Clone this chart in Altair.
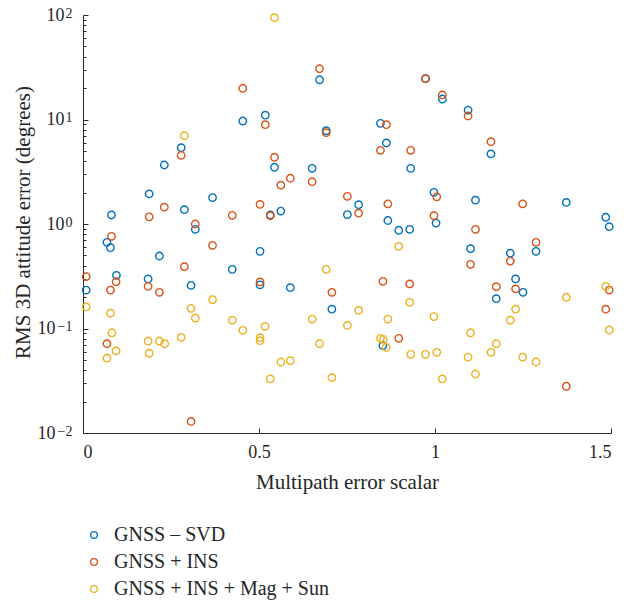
import altair as alt
import pandas as pd

# ---------------- data ----------------
series_names = ["GNSS – SVD", "GNSS + INS", "GNSS + INS + Mag + Sun"]
series_colors = ["#0072BD", "#D95319", "#EDB120"]

svd_x = [0.454, 0.279, 0.231, 0.188, 0.288, 0.368, 0.081, 0.319, 0.068, 0.078,
         0.503, 0.217, 0.424, 0.095, 0.185, 0.009, 0.307, 0.503, 0.672, 0.973,
         1.021, 0.518, 0.691, 0.845, 0.862, 0.931, 0.544, 0.651, 0.783, 0.997,
         0.532, 0.562, 0.751, 0.866, 0.897, 0.928, 1.003, 0.589, 0.707, 0.852,
         1.094, 1.159, 1.115, 1.373, 1.485, 1.495, 1.101, 1.214, 1.287, 1.229,
         1.250, 1.174]
svd_y = [9.67, 5.37, 3.67, 1.94, 1.37, 1.79, 1.22, 0.89, 0.668, 0.593,
         0.548, 0.494, 0.368, 0.323, 0.298, 0.233, 0.259, 0.262, 24.0, 24.6,
         15.7, 11.0, 7.81, 9.2, 5.96, 3.41, 3.49, 3.41, 1.53, 2.01,
         1.22, 1.33, 1.23, 1.08, 0.871, 0.889, 1.02, 0.246, 0.153, 0.0685,
         12.3, 4.68, 1.69, 1.61, 1.16, 0.942, 0.58, 0.525, 0.548, 0.298,
         0.222, 0.193]

ins_x = [0.454, 0.279, 0.231, 0.188, 0.424, 0.503, 0.319, 0.081, 0.368, 0.288,
         0.009, 0.094, 0.185, 0.078, 0.217, 0.503, 0.068, 0.307, 0.672, 0.973,
         1.021, 0.518, 0.691, 0.862, 0.845, 0.931, 0.544, 0.589, 0.562, 0.651,
         0.751, 0.866, 1.005, 0.532, 0.783, 0.997, 0.707, 0.852, 0.928, 0.897,
         1.094, 1.159, 1.249, 1.115, 1.101, 1.214, 1.287, 1.174, 1.229, 1.495,
         1.485, 1.373]
ins_y = [19.9, 4.54, 1.45, 1.17, 1.21, 1.54, 1.0, 0.762, 0.625, 0.39,
         0.313, 0.28, 0.253, 0.233, 0.222, 0.279, 0.0715, 0.0129, 30.6, 24.6,
         17.2, 8.92, 7.48, 8.92, 5.07, 5.07, 4.35, 2.74, 2.35, 2.54,
         1.84, 1.56, 1.82, 1.20, 1.27, 1.20, 0.222, 0.283, 0.267, 0.0805,
         10.8, 6.13, 1.56, 0.889, 0.411, 0.442, 0.668, 0.251, 0.239, 0.233,
         0.153, 0.028]

sun_x = [0.288, 0.544, 0.009, 0.078, 0.307, 0.319, 0.368, 0.424, 0.454, 0.082,
         0.094, 0.068, 0.185, 0.188, 0.217, 0.232, 0.279, 0.503, 0.503, 0.897,
         0.691, 0.928, 0.783, 0.651, 0.866, 0.997, 0.517, 0.751, 0.672, 0.845,
         0.853, 0.861, 0.562, 0.589, 0.931, 0.973, 1.005, 0.532, 0.707, 1.021,
         1.373, 1.485, 1.229, 1.214, 1.101, 1.495, 1.174, 1.159, 1.094, 1.249,
         1.287, 1.115]
sun_y = [7.0, 94.2, 0.161, 0.14, 0.156, 0.126, 0.189, 0.12, 0.096, 0.091,
         0.061, 0.052, 0.0759, 0.058, 0.0759, 0.0715, 0.0824, 0.0817, 0.0764, 0.612,
         0.368, 0.178, 0.149, 0.123, 0.123, 0.130, 0.105, 0.107, 0.0715, 0.0805,
         0.0788, 0.0661, 0.0478, 0.0492, 0.0566, 0.0566, 0.0592, 0.0329, 0.0338, 0.0329,
         0.199, 0.253, 0.153, 0.12, 0.091, 0.0968, 0.0715, 0.0592, 0.0533, 0.0533,
         0.0478, 0.0367]

x_ticks = [0, 0.5, 1, 1.5]
y_major = [0.01, 0.1, 1, 10, 100]
y_minor = [m * 10.0 ** e for e in range(-2, 2) for m in range(2, 10)]

rows = []
for name, xs, ys in zip(series_names, [svd_x, ins_x, sun_x], [svd_y, ins_y, sun_y]):
    for a, b in zip(xs, ys):
        rows.append({"series": name, "x": a, "y": b})
df = pd.DataFrame(rows)

# ---------------- styling ----------------
FONT = "Liberation Serif"
TXT = "#262626"

xscale = alt.Scale(domain=[0, 1.5], nice=False, zero=False)
yscale = alt.Scale(type="log", domain=[0.01, 100], nice=False)

E = "round(log(datum.value)/LN10)"
exp_label_expr = f"{E} < 0 ? '−' + abs({E}) : '' + {E}"

base = alt.Chart(df)

points = base.mark_point(
    shape="circle", filled=False, size=55, strokeWidth=1.4, opacity=1
).encode(
    x=alt.X(
        "x:Q", scale=xscale,
        axis=alt.Axis(
            values=x_ticks, format="~g", ticks=False, tickSize=0, grid=False,
            labelPadding=10, labelFont=FONT, labelFontSize=18, labelColor=TXT,
            domainColor=TXT, domainWidth=1,
            title="Multipath error scalar", titleFont=FONT, titleFontSize=21,
            titleFontWeight="normal", titleColor=TXT,
            titleBaseline="alphabetic", titleY=55,
        ),
    ),
    y=alt.Y(
        "y:Q", scale=yscale,
        axis=alt.Axis(
            values=y_major, labelExpr="'10'", ticks=False, tickSize=0,
            grid=False,
            labelPadding={"condition": {"test": "datum.value < 1", "value": 28},
                          "value": 19},
            labelFont=FONT, labelFontSize=18,
            labelColor=TXT, domainColor=TXT, domainWidth=1,
            title="RMS 3D attitude error (degrees)", titleFont=FONT,
            titleFontSize=21, titleFontWeight="normal", titleColor=TXT,
            titleBaseline="alphabetic", titleX=-54, titleY=207,
        ),
    ),
    color=alt.Color(
        "series:N",
        scale=alt.Scale(domain=series_names, range=series_colors),
        legend=alt.Legend(
            title=None, orient="none", legendX=1, legendY=510, padding=0,
            direction="vertical", symbolType="circle", symbolSize=45,
            symbolStrokeWidth=1.3, symbolFillColor="transparent",
            labelFont=FONT, labelFontSize=20, labelColor=TXT,
            labelOffset=10, rowPadding=7, labelLimit=400,
        ),
    ),
)

exponents = base.mark_point(opacity=0).encode(
    x=alt.X("x:Q", scale=xscale, axis=None),
    y=alt.Y(
        "y:Q", scale=yscale,
        axis=alt.Axis(
            orient="left", values=y_major, labelExpr=exp_label_expr,
            ticks=False, tickSize=0, domain=False, grid=False, title=None,
            labelPadding=11, labelFont=FONT, labelFontSize=14, labelColor=TXT,
            labelBaseline="alphabetic", labelOffset=2, labelAlign="right",
        ),
    ),
)

major_ticks = base.mark_point(opacity=0).encode(
    x=alt.X(
        "x:Q", scale=xscale,
        axis=alt.Axis(
            orient="bottom", offset=-5, values=x_ticks, tickSize=5,
            tickColor=TXT, tickWidth=1, domain=False, labels=False,
            grid=False, title=None,
        ),
    ),
    y=alt.Y(
        "y:Q", scale=yscale,
        axis=alt.Axis(
            orient="left", offset=-5, values=y_major, tickSize=5,
            tickColor=TXT, tickWidth=1, domain=False, labels=False,
            grid=False, title=None,
        ),
    ),
)

minor_ticks = base.mark_point(opacity=0).encode(
    x=alt.X("x:Q", scale=xscale, axis=None),
    y=alt.Y(
        "y:Q", scale=yscale,
        axis=alt.Axis(
            orient="left", offset=-3, values=y_minor, tickSize=3,
            tickColor=TXT, tickWidth=1, domain=False, labels=False,
            grid=False, title=None,
        ),
    ),
)

chart = (
    alt.layer(points, exponents, major_ticks, minor_ticks)
    .resolve_axis(x="independent", y="independent")
    .properties(
        width=528, height=418,
        padding={"left": 83, "top": 15, "right": 23, "bottom": 171},
        autosize=alt.AutoSizeParams(type="none"),
        background="white",
    )
    .configure_view(stroke="transparent")
)

chart.save("out.html", embed_options={"renderer": "svg", "actions": False})
